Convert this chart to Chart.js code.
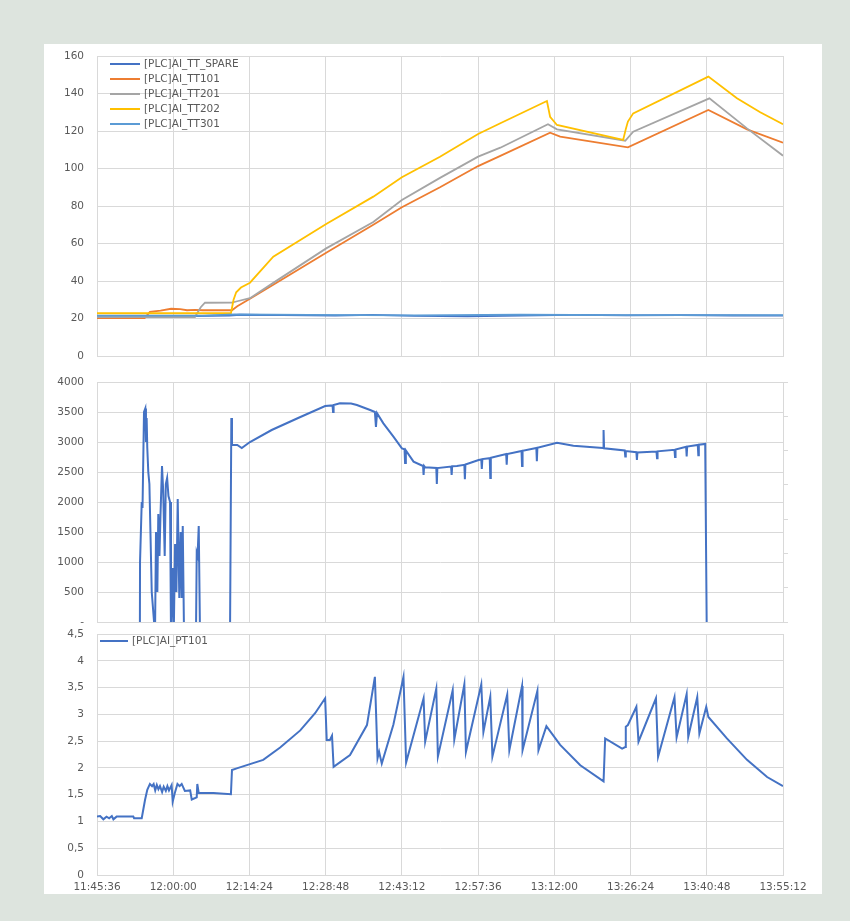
<!DOCTYPE html>
<html>
<head>
<meta charset="utf-8">
<script src="https://cdn.jsdelivr.net/npm/chart.js@4/dist/chart.umd.min.js"></script>
<style>
  body { margin: 0; background: #dde4de; }
  #panel { position: absolute; left: 44px; top: 44px; width: 778px; height: 850px; background: #fff; }
  canvas { position: absolute; left: 44px; }
</style>
</head>
<body>
<div id="panel"></div>
<canvas id="tempChart" width="778" height="320" style="top:44px"></canvas>
<canvas id="flowChart" width="778" height="258" style="top:370px"></canvas>
<canvas id="pressChart" width="778" height="267" style="top:628px"></canvas>
<script>
// time axis: minutes after 11:45:36, ticks every 14:24
const START = 42336;
const END = 50112;
const STEP = 864;

// temperatures [minute, °C]
const ttSpare = [[0,21.0],[9,21.2],[18,21.3],[25,21.6],[27,22.0],[35,21.8],[45,21.5],[52,21.9],[60,21.4],[70,21.2],[80,21.6],[90,21.9],[100,21.7],[110,21.8],[120,21.6],[129.6,21.5]];
const tt101 = [[0,20.2],[9,20.2],[10,23.5],[12,24.2],[14,25.2],[15.7,25],[17,24.4],[18.5,24.6],[20,24.4],[25.5,24.4],[26.5,26.5],[28.9,30.5],[33.3,38],[43.3,55.1],[52.2,70],[57.6,79.3],[64.8,90],[72,101.3],[76.2,106.7],[85.6,119.1],[87.5,117],[100.3,111.3],[115.5,131.2],[122.8,120.9],[129.6,113.8]];
const tt201 = [[0,20.8],[18.5,20.8],[19.6,26],[20.4,28.4],[25.5,28.5],[26.5,29.2],[28.9,30.8],[33.3,39],[43.3,57.4],[52.2,71.5],[57.6,83.2],[64.8,95],[72,106.3],[76.2,111.1],[85.2,123.6],[86.9,120.9],[99.8,114.8],[101.3,119.6],[115.7,137.4],[122.8,121.4],[129.6,106.8]];
const tt202 = [[0,22.8],[25.3,22.8],[25.8,30],[26.3,34],[27.2,36.5],[28.9,39.1],[33.3,53],[43.3,70.4],[52.2,85],[57.6,95.3],[64.8,106.3],[72,118.4],[76.2,124.1],[85,136],[85.6,127.6],[86.9,123.2],[99.4,115.2],[99.9,121],[100.3,125],[101.3,129.4],[115.5,149],[120.9,137.5],[125.3,130],[129.6,123.6]];
const tt301 = [[0,21.5],[20,21.5],[26,22.2],[40,21.9],[60,21.7],[80,22.0],[100,21.8],[129.6,21.8]];

// middle panel (no legend) [minute, value]
const flow = [[0,-200],[8.1,-200],[8.13,1000],[8.45,2000],[8.6,1900],[8.88,3500],[9.13,3560],[9.25,3000],[9.38,3400],[9.5,2900],[9.69,2500],[9.9,2300],[10.34,500],[10.96,-200],[11.15,1500],[11.4,500],[11.58,1800],[11.8,1100],[12.0,1800],[12.28,2600],[12.5,2200],[12.79,1100],[13.0,2300],[13.25,2400],[13.5,2100],[13.8,2000],[13.98,-200],[14.3,900],[14.5,-200],[14.75,1300],[15.0,500],[15.25,2050],[15.55,400],[15.8,1500],[16.0,400],[16.2,1600],[16.44,-200],[18.7,-200],[18.84,1150],[19.0,1100],[19.22,1600],[19.46,-200],[25.13,-200],[25.38,3400],[25.5,2950],[26.5,2950],[27.35,2900],[28.9,3000],[33,3200],[38,3400],[43.1,3600],[44.5,3610],[44.6,3500],[44.7,3615],[45.9,3645],[48,3640],[49.1,3617],[51.6,3533],[52.5,3500],[52.7,3250],[52.9,3480],[54.1,3311],[56.0,3089],[57.6,2894],[58.1,2880],[58.2,2650],[58.35,2860],[59.8,2672],[61.6,2600],[61.7,2450],[61.8,2600],[62.0,2578],[64.1,2567],[64.2,2300],[64.3,2565],[66.9,2590],[67.0,2450],[67.1,2595],[68,2600],[69.4,2620],[69.5,2380],[69.6,2625],[72.1,2700],[72.6,2710],[72.7,2550],[72.8,2715],[74.2,2730],[74.3,2400],[74.4,2735],[77.3,2800],[77.4,2620],[77.5,2800],[80.2,2850],[80.3,2600],[80.4,2855],[83.0,2900],[83.1,2680],[83.2,2905],[86.9,2989],[90.0,2939],[95.6,2900],[95.7,3200],[95.8,2895],[99.7,2860],[99.8,2760],[99.9,2850],[101.9,2830],[102.0,2700],[102.1,2825],[105.7,2840],[105.8,2730],[105.9,2845],[109.1,2870],[109.2,2750],[109.3,2875],[111.3,2920],[111.4,2760],[111.5,2925],[113.5,2950],[113.6,2780],[113.7,2955],[114.9,2967],[115.2,-200],[129.6,-200]];

// pressure [minute, bar]
const pt101 = [[0,1.09],[0.6,1.10],[1.2,1.04],[1.8,1.09],[2.3,1.06],[2.8,1.10],[3.1,1.04],[3.7,1.09],[6.86,1.09],[7.0,1.06],[8.45,1.06],[9.07,1.40],[9.5,1.59],[10.0,1.70],[10.4,1.66],[10.7,1.70],[11.0,1.58],[11.3,1.68],[11.6,1.60],[11.9,1.66],[12.3,1.55],[12.6,1.65],[13.0,1.57],[13.3,1.66],[13.6,1.58],[14.1,1.68],[14.3,1.37],[14.7,1.53],[15.2,1.70],[15.6,1.66],[16.0,1.70],[16.6,1.57],[17.6,1.58],[17.9,1.41],[18.84,1.45],[18.95,1.70],[19.22,1.53],[22.0,1.53],[25.3,1.51],[25.5,1.96],[26.4,1.99],[28.9,2.07],[31.4,2.15],[34.6,2.38],[38.4,2.70],[41.2,3.02],[43.1,3.30],[43.4,2.52],[44.0,2.52],[44.4,2.60],[44.7,2.02],[47.8,2.24],[51.0,2.80],[52.5,3.70],[53.0,2.18],[53.3,2.30],[53.8,2.08],[56.0,2.81],[57.9,3.70],[58.4,2.10],[61.7,3.30],[62.0,2.49],[64.1,3.48],[64.4,2.21],[67.2,3.45],[67.5,2.53],[69.4,3.56],[69.7,2.30],[72.6,3.56],[73.0,2.67],[74.3,3.33],[74.7,2.21],[77.5,3.37],[77.9,2.33],[80.3,3.53],[80.4,2.33],[83.2,3.44],[83.4,2.33],[84.9,2.78],[87.5,2.43],[91.3,2.05],[95.7,1.75],[96.0,2.55],[99.2,2.36],[99.8,2.39],[99.9,2.77],[100.3,2.80],[101.9,3.14],[102.3,2.49],[105.6,3.30],[106.0,2.21],[109.1,3.32],[109.5,2.57],[111.4,3.38],[111.7,2.58],[113.4,3.32],[113.8,2.64],[115.1,3.14],[115.5,2.95],[119.0,2.55],[122.8,2.15],[126.6,1.83],[129.6,1.66]];

const GRID = '#d9d9d9';
const TEXT = '#595959';
const FONT = { family: 'DejaVu Sans', size: 10.5 };

const toXY = pts => pts.map(([m, v]) => ({ x: START + m * 60, y: v }));
const pad = n => String(n).padStart(2, '0');
const clock = s => pad(Math.floor(s / 3600)) + ':' + pad(Math.floor(s / 60) % 60) + ':' + pad(s % 60);

// legend drawn inside the plot, one row per labelled dataset
const insideLegend = {
  id: 'insideLegend',
  afterDraw(chart, args, opts) {
    const { ctx, chartArea } = chart;
    ctx.save();
    ctx.font = '10.5px "DejaVu Sans"';
    ctx.textBaseline = 'middle';
    chart.data.datasets.forEach((ds, i) => {
      const y = chartArea.top + opts.top + i * opts.gap;
      const x = chartArea.left + opts.left;
      ctx.strokeStyle = ds.borderColor;
      ctx.lineWidth = 2;
      ctx.beginPath();
      ctx.moveTo(x, y);
      ctx.lineTo(x + opts.len, y);
      ctx.stroke();
      ctx.fillStyle = TEXT;
      ctx.fillText(ds.label, x + opts.len + 4, y);
    });
    ctx.restore();
  }
};

function xAxis(labels) {
  return {
    type: 'linear', min: START, max: END,
    ticks: { stepSize: STEP, display: labels, callback: v => clock(v), font: FONT, color: TEXT, padding: 6, maxRotation: 0, autoSkip: false },
    grid: { color: GRID, drawTicks: false },
    border: { color: GRID },
    afterFit: s => { s.height = labels ? 20 : 0; s.paddingLeft = 0; s.paddingRight = 0; }
  };
}

function yAxis(min, max, step, fmt) {
  return {
    min, max,
    ticks: { stepSize: step, font: FONT, color: TEXT, padding: 13, callback: fmt },
    grid: { color: GRID, drawTicks: false },
    border: { color: GRID },
    afterFit: s => { s.width = 40; s.paddingTop = 0; s.paddingBottom = 0; }
  };
}

function line(label, data, color, width, order) {
  return { label, data: toXY(data), borderColor: color, borderWidth: width, pointRadius: 0, tension: 0, order };
}

const base = { responsive: false, animation: false, plugins: { legend: { display: false }, tooltip: { enabled: false } } };

new Chart(document.getElementById('tempChart'), {
  type: 'line',
  data: {
    datasets: [
      line('[PLC]AI_TT_SPARE', ttSpare, '#4472c4', 1.8, 5),
      line('[PLC]AI_TT101', tt101, '#ed7d31', 1.8, 4),
      line('[PLC]AI_TT201', tt201, '#a5a5a5', 1.8, 3),
      line('[PLC]AI_TT202', tt202, '#ffc000', 1.8, 2),
      line('[PLC]AI_TT301', tt301, '#5b9bd5', 1.8, 1)
    ]
  },
  options: {
    ...base,
    layout: { padding: { left: 13, right: 39, top: 12, bottom: 8 } },
    plugins: { ...base.plugins, insideLegend: { left: 13, top: 8, gap: 15, len: 30 } },
    scales: { x: xAxis(false), y: yAxis(0, 160, 20) }
  },
  plugins: [insideLegend]
});

new Chart(document.getElementById('flowChart'), {
  type: 'line',
  data: { datasets: [line('', flow, '#4472c4', 2, 1)] },
  options: {
    ...base,
    layout: { padding: { left: 13, right: 0, top: 12, bottom: 6 } },
    scales: {
      x: xAxis(false),
      y: yAxis(0, 4000, 500, v => v === 0 ? '-' : v),
      y2: {
        position: 'right', min: 0, max: 7,
        ticks: { stepSize: 1, callback: () => '', padding: 0 },
        grid: { drawOnChartArea: false, color: GRID, tickLength: 5 },
        border: { color: GRID },
        afterFit: s => { s.width = 39; s.paddingTop = 0; s.paddingBottom = 0; }
      }
    }
  }
});

new Chart(document.getElementById('pressChart'), {
  type: 'line',
  data: { datasets: [line('[PLC]AI_PT101', pt101, '#4472c4', 2, 1)] },
  options: {
    ...base,
    layout: { padding: { left: 13, right: 39, top: 6, bottom: 0 } },
    plugins: { ...base.plugins, insideLegend: { left: 3, top: 7, gap: 15, len: 28 } },
    scales: { x: xAxis(true), y: yAxis(0, 4.5, 0.5, v => String(v).replace('.', ',')) }
  },
  plugins: [insideLegend]
});
</script>
</body>
</html>
